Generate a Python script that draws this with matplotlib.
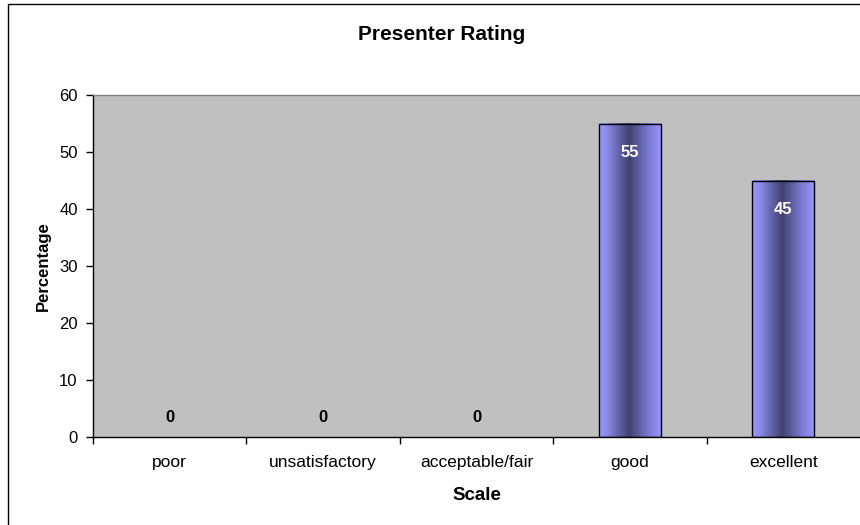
import matplotlib
matplotlib.use("Agg")
import matplotlib.pyplot as plt
import numpy as np
from matplotlib.colors import LinearSegmentedColormap
from matplotlib.patches import Rectangle

categories = ["poor", "unsatisfactory", "acceptable/fair", "good", "excellent"]
values = [0, 0, 0, 55, 45]
yticks = [0, 10, 20, 30, 40, 50, 60]
title = "Presenter Rating"
xlabel = "Scale"
ylabel = "Percentage"

plt.rcParams['font.family'] = ['Liberation Sans', 'DejaVu Sans']

W, H = 860, 525
fig = plt.figure(figsize=(W / 100, H / 100), dpi=100)
fig.patch.set_facecolor("white")

# chart frame (cropped on the right and bottom)
fig.patches.append(Rectangle((8 / W, -0.1), 1.2, (H - 4) / H + 0.1, transform=fig.transFigure,
                             fill=False, edgecolor="black", linewidth=1.0))

ax = fig.add_axes([93 / W, 88 / H, 767 / W, 342 / H])
ax.set_facecolor("#C0C0C0")

x = np.arange(len(categories))
edgecols = ["black" if v > 0 else "none" for v in values]
bars = ax.bar(x, values, width=0.405, color="none", edgecolor=edgecols, linewidth=1.0, zorder=3)

cmap = LinearSegmentedColormap.from_list(
    "cyl", [(0.0, "#9999FF"), (0.12, "#8C8CEB"), (0.48, "#414170"), (0.75, "#7474C8"), (1.0, "#9999FF")])
grad = np.linspace(0, 1, 256).reshape(1, -1)
for b in bars:
    h = b.get_height()
    if h <= 0:
        continue
    ax.imshow(grad, cmap=cmap, aspect="auto", zorder=2,
              extent=(b.get_x(), b.get_x() + b.get_width(), 0, h), interpolation="bicubic")

for xi, v in zip(x, values):
    if v > 0:
        ax.annotate(str(v), (xi, v), xytext=(0, -29), textcoords="offset pixels",
                    ha="center", va="center", color="white", fontsize=12, fontweight="bold", zorder=4)
    else:
        ax.annotate(str(v), (xi, v), xytext=(0, 19), textcoords="offset pixels",
                    ha="center", va="center", color="black", fontsize=12, fontweight="bold", zorder=4)

ax.set_xlim(-0.5, len(categories) - 0.5)
ax.set_ylim(0, 60)
ax.set_yticks(yticks)
ax.set_xticks(x)
ax.set_xticklabels(categories)
ax.set_xticks(np.arange(len(categories)) - 0.5, minor=True)
ax.tick_params(axis="x", which="major", length=0, pad=13, labelsize=12.5)
ax.tick_params(axis="x", which="minor", length=5, width=1, direction="out", color="black")
ax.tick_params(axis="y", length=5, width=1, direction="out", pad=6, labelsize=12)

ax.spines["left"].set_color("black")
ax.spines["bottom"].set_color("black")
ax.spines["top"].set_color("#808080")
ax.spines["right"].set_visible(False)
for s in ax.spines.values():
    s.set_linewidth(1.0)

fig.text(442 / W, 1 - 35 / H, title, ha="center", va="center", fontsize=15, fontweight="bold")
fig.text(477 / W, 1 - 496 / H, xlabel, ha="center", va="center", fontsize=13.5, fontweight="bold")
fig.text(43 / W, 1 - 266 / H, ylabel, ha="center", va="center", rotation=90, fontsize=12, fontweight="bold")

fig.savefig("out.png", dpi=100)
